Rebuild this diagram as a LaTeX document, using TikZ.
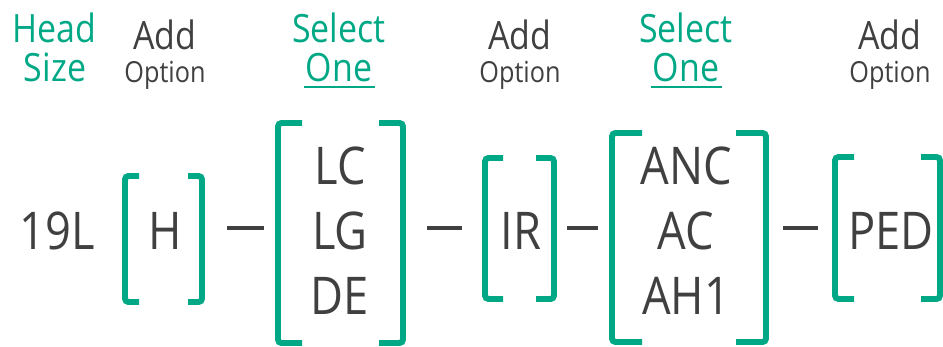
\documentclass[tikz,border=0pt]{standalone}
\usepackage{fontspec}
\setmainfont{Open Sans}[FakeStretch=0.87]
\usetikzlibrary{calc}
\definecolor{selgreen}{HTML}{00A886}
\definecolor{txtgray}{HTML}{404040}

\begin{document}
\begin{tikzpicture}[x=0.02cm, y=-0.02cm,
	code/.style={anchor=base, inner sep=0, text=txtgray, font=\fontsize{29.6}{30}\selectfont},
	head/.style={anchor=base, inner sep=0, text=selgreen, font=\fontsize{22.2}{23}\selectfont},
	add/.style={anchor=base, inner sep=0, text=txtgray, font=\fontsize{22.2}{23}\selectfont},
	opt/.style={anchor=base, inner sep=0, text=txtgray, font=\fontsize{16.5}{17}\selectfont},
	brack/.style={draw=selgreen, line width=3.4pt, rounded corners=2pt},
	bar/.style={draw=txtgray, line width=2.2pt}]
\useasboundingbox (0,0) rectangle (943,347);

% headings
\node[head] (head) at (54,43) {Head};
\node[head] (size) at (55,82) {Size};
\foreach \x/\n in {165/a, 520/b, 890/c} {
	\node[add] (add\n) at (\x,50) {Add};
	\node[opt] (opt\n) at (\x,83) {Option};
}
\foreach \x/\n in {339/a, 686/b} {
	\node[head] (sel\n) at (\x,43) {Select};
	\node[head] (one\n) at (\x,82) {One};
	\draw[selgreen, line width=1.7pt] ($(one\n.base west)+(-2,5)$) -- ($(one\n.base east)+(2,5)$);
}

% code row
\node[code] (lead) at (57,250) {19L};
\node[code] (h) at (165,250) {H};
\foreach \y/\t in {185/LC, 250/LG, 315/DE}
	\node[code] (\t) at (340,\y) {\t};
\node[code] (ir) at (521,250) {IR};
\foreach \y/\t in {185/ANC, 250/AC, 315/AH1}
	\node[code] (\t) at (686,\y) {\t};
\node[code] (ped) at (891,250) {PED};

% brackets
\foreach \n/\l/\r/\t/\b/\k in {1/125/202/176/302/14, 2/278/403/123/343/24, 3/485/554/158/299/18, 4/612/766/133/342/30, 5/835/940/157/299/19} {
	\draw[brack] (\l+\k,\t) -- (\l,\t) -- (\l,\b) -- (\l+\k,\b);
	\draw[brack] (\r-\k,\t) -- (\r,\t) -- (\r,\b) -- (\r-\k,\b);
	\coordinate (bl\n) at (\l,228);
	\coordinate (br\n) at (\r,228);
}

\foreach \a/\b/\s/\e in {1/2/25/14, 2/3/24/23, 3/4/13/14, 4/5/17/17}
	\draw[bar] ($(br\a)+(\s,0)$) -- ($(bl\b)-(\e,0)$);
\end{tikzpicture}
\end{document}
